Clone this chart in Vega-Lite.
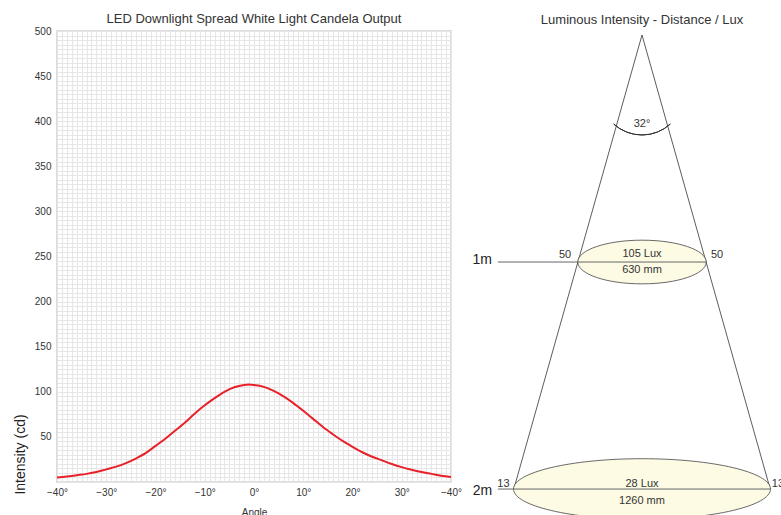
{
  "$schema": "https://vega.github.io/schema/vega-lite/v6.json",
  "background": "white",
  "padding": {"left": 12, "top": 12, "right": 0, "bottom": 0},
  "autosize": {"type": "pad"},
  "spacing": 51,
  "bounds": "flush",
  "config": {
    "font": "Liberation Sans",
    "view": {"stroke": null},
    "title": {"fontSize": 13, "fontWeight": "normal", "color": "#333", "offset": 0, "frame": "group"}
  },
  "hconcat": [
    {
      "width": 394,
      "height": 451,
      "title": {"text": "LED Downlight Spread White Light Candela Output", "offset": 0},
      "view": {"stroke": "#dcdcdc", "strokeWidth": 2},
      "data": {"values": [
        {"angle": -40, "intensity": 5},
        {"angle": -38, "intensity": 6},
        {"angle": -36, "intensity": 7.5},
        {"angle": -34, "intensity": 9},
        {"angle": -32, "intensity": 11},
        {"angle": -30, "intensity": 14},
        {"angle": -28, "intensity": 17},
        {"angle": -26, "intensity": 21},
        {"angle": -24, "intensity": 26},
        {"angle": -22, "intensity": 32},
        {"angle": -20, "intensity": 40},
        {"angle": -18, "intensity": 48},
        {"angle": -16, "intensity": 57},
        {"angle": -14, "intensity": 66},
        {"angle": -12, "intensity": 76},
        {"angle": -10, "intensity": 85},
        {"angle": -8, "intensity": 93},
        {"angle": -6, "intensity": 100},
        {"angle": -4, "intensity": 105},
        {"angle": -2, "intensity": 107.5},
        {"angle": -1, "intensity": 108},
        {"angle": 0, "intensity": 107.5},
        {"angle": 2, "intensity": 105.5},
        {"angle": 4, "intensity": 101},
        {"angle": 6, "intensity": 95},
        {"angle": 8, "intensity": 87.5},
        {"angle": 10, "intensity": 79},
        {"angle": 12, "intensity": 70},
        {"angle": 14, "intensity": 61},
        {"angle": 16, "intensity": 53},
        {"angle": 18, "intensity": 45.5},
        {"angle": 20, "intensity": 39},
        {"angle": 22, "intensity": 33},
        {"angle": 24, "intensity": 28},
        {"angle": 26, "intensity": 24},
        {"angle": 28, "intensity": 20},
        {"angle": 30, "intensity": 16.5},
        {"angle": 32, "intensity": 13.5},
        {"angle": 34, "intensity": 11},
        {"angle": 36, "intensity": 9},
        {"angle": 38, "intensity": 7},
        {"angle": 40, "intensity": 5.5}
      ]},
      "mark": {"type": "line", "color": "#e8202a", "strokeWidth": 2, "interpolate": "monotone"},
      "encoding": {
        "x": {
          "field": "angle", "type": "quantitative",
          "scale": {"domain": [-40, 40], "nice": false, "zero": false},
          "axis": {
            "title": "Angle",
            "titleFontSize": 10, "titleFontWeight": "normal", "titleColor": "#333", "titlePadding": 10,
            "values": [-40,-39,-38,-37,-36,-35,-34,-33,-32,-31,-30,-29,-28,-27,-26,-25,-24,-23,-22,-21,-20,-19,-18,-17,-16,-15,-14,-13,-12,-11,-10,-9,-8,-7,-6,-5,-4,-3,-2,-1,0,1,2,3,4,5,6,7,8,9,10,11,12,13,14,15,16,17,18,19,20,21,22,23,24,25,26,27,28,29,30,31,32,33,34,35,36,37,38,39,40],
            "labelExpr": "datum.value % 10 === 0 ? (datum.value === 40 ? '−40°' : format(datum.value, 'd') + '°') : ''",
            "labelOverlap": false, "labelFlush": false, "labelBound": false,
            "labelFontSize": 10, "labelColor": "#333", "labelPadding": 5,
            "ticks": false, "tickSize": 0, "domain": false,
            "grid": true, "gridColor": "#e6e6e6", "gridWidth": 1
          }
        },
        "y": {
          "field": "intensity", "type": "quantitative",
          "scale": {"domain": [0, 500], "nice": false},
          "axis": {
            "title": "Intensity (cd)",
            "titleFontSize": 14, "titleFontWeight": "normal", "titleColor": "#222",
            "titleAngle": -90, "titleAlign": "center", "titleBaseline": "middle",
            "titleX": -37, "titleY": 423,
            "values": [0,5,10,15,20,25,30,35,40,45,50,55,60,65,70,75,80,85,90,95,100,105,110,115,120,125,130,135,140,145,150,155,160,165,170,175,180,185,190,195,200,205,210,215,220,225,230,235,240,245,250,255,260,265,270,275,280,285,290,295,300,305,310,315,320,325,330,335,340,345,350,355,360,365,370,375,380,385,390,395,400,405,410,415,420,425,430,435,440,445,450,455,460,465,470,475,480,485,490,495,500],
            "labelExpr": "datum.value % 50 === 0 && datum.value > 0 ? format(datum.value, 'd') : ''",
            "labelOverlap": false, "labelFlush": false, "labelBound": false,
            "labelFontSize": 10, "labelColor": "#333", "labelPadding": 6,
            "ticks": false, "tickSize": 0, "domain": false,
            "grid": true, "gridColor": "#e6e6e6", "gridWidth": 1
          }
        }
      }
    },
    {
      "width": 280,
      "height": 451,
      "title": {"text": "Luminous Intensity - Distance / Lux", "offset": 4},
      "layer": [
        {
          "data": {"values": [
            {"x": 0, "d": 0, "x2": -630, "d2": 2},
            {"x": 0, "d": 0, "x2": 630, "d2": 2}
          ]},
          "mark": {"type": "rule", "color": "#333", "strokeWidth": 0.8},
          "encoding": {
            "x": {"field": "x", "type": "quantitative", "axis": null, "scale": {"domain": [-688, 688], "nice": false, "zero": false}},
            "y": {"field": "d", "type": "quantitative", "axis": null, "scale": {"domain": [-0.0176, 1.969], "nice": false, "zero": false, "reverse": true}},
            "x2": {"field": "x2"},
            "y2": {"field": "d2"}
          }
        },
        {
          "data": {"values": [{"x": 0, "d": 0.2555}]},
          "mark": {"type": "arc", "radius": 42, "radius2": 42, "theta": 2.40, "theta2": 3.88, "filled": false, "stroke": "#333", "strokeWidth": 1},
          "encoding": {
            "x": {"field": "x", "type": "quantitative"},
            "y": {"field": "d", "type": "quantitative"}
          }
        },
        {
          "data": {"values": [
            {"level": "1m", "x": 0, "d": 1, "w": 630},
            {"level": "2m", "x": 0, "d": 2, "w": 1260}
          ]},
          "mark": {"type": "point", "filled": true, "fill": "#fdfbe4", "stroke": "#444", "strokeWidth": 0.8, "opacity": 1, "fillOpacity": 1},
          "encoding": {
            "x": {"field": "x", "type": "quantitative"},
            "y": {"field": "d", "type": "quantitative"},
            "size": {"field": "w", "type": "quantitative", "legend": null, "scale": {"type": "pow", "exponent": 2, "domain": [0, 1260], "range": [0, 66049]}},
            "shape": {"field": "level", "type": "nominal", "legend": null, "scale": {"domain": ["1m", "2m"], "range": ["M-1,0A1,0.34,0,1,1,1,0A1,0.34,0,1,1,-1,0Z", "M-1,0A1,0.236,0,1,1,1,0A1,0.236,0,1,1,-1,0Z"]}}
          }
        },
        {
          "data": {"values": [
            {"x": -708, "x2": 315, "d": 1},
            {"x": -708, "x2": 630, "d": 2}
          ]},
          "mark": {"type": "rule", "color": "#666", "strokeWidth": 1},
          "encoding": {
            "x": {"field": "x", "type": "quantitative"},
            "x2": {"field": "x2"},
            "y": {"field": "d", "type": "quantitative"}
          }
        },
        {
          "data": {"values": [
            {"x": 0, "d": 0.392, "label": "32°"},
            {"x": -378, "d": 0.967, "label": "50"},
            {"x": 369, "d": 0.967, "label": "50"},
            {"x": 0, "d": 0.965, "label": "105 Lux"},
            {"x": 0, "d": 1.035, "label": "630 mm"},
            {"x": -681, "d": 1.976, "label": "13"},
            {"x": 668, "d": 1.976, "label": "13"},
            {"x": 0, "d": 1.98, "label": "28 Lux"},
            {"x": 0, "d": 2.053, "label": "1260 mm"}
          ]},
          "mark": {"type": "text", "fontSize": 11, "color": "#333", "align": "center", "baseline": "middle"},
          "encoding": {
            "x": {"field": "x", "type": "quantitative"},
            "y": {"field": "d", "type": "quantitative"},
            "text": {"field": "label"}
          }
        },
        {
          "data": {"values": [
            {"x": -785, "d": 0.991, "label": "1m"},
            {"x": -784, "d": 2.009, "label": "2m"}
          ]},
          "mark": {"type": "text", "fontSize": 14, "color": "#222", "align": "center", "baseline": "middle"},
          "encoding": {
            "x": {"field": "x", "type": "quantitative"},
            "y": {"field": "d", "type": "quantitative"},
            "text": {"field": "label"}
          }
        }
      ]
    }
  ]
}
